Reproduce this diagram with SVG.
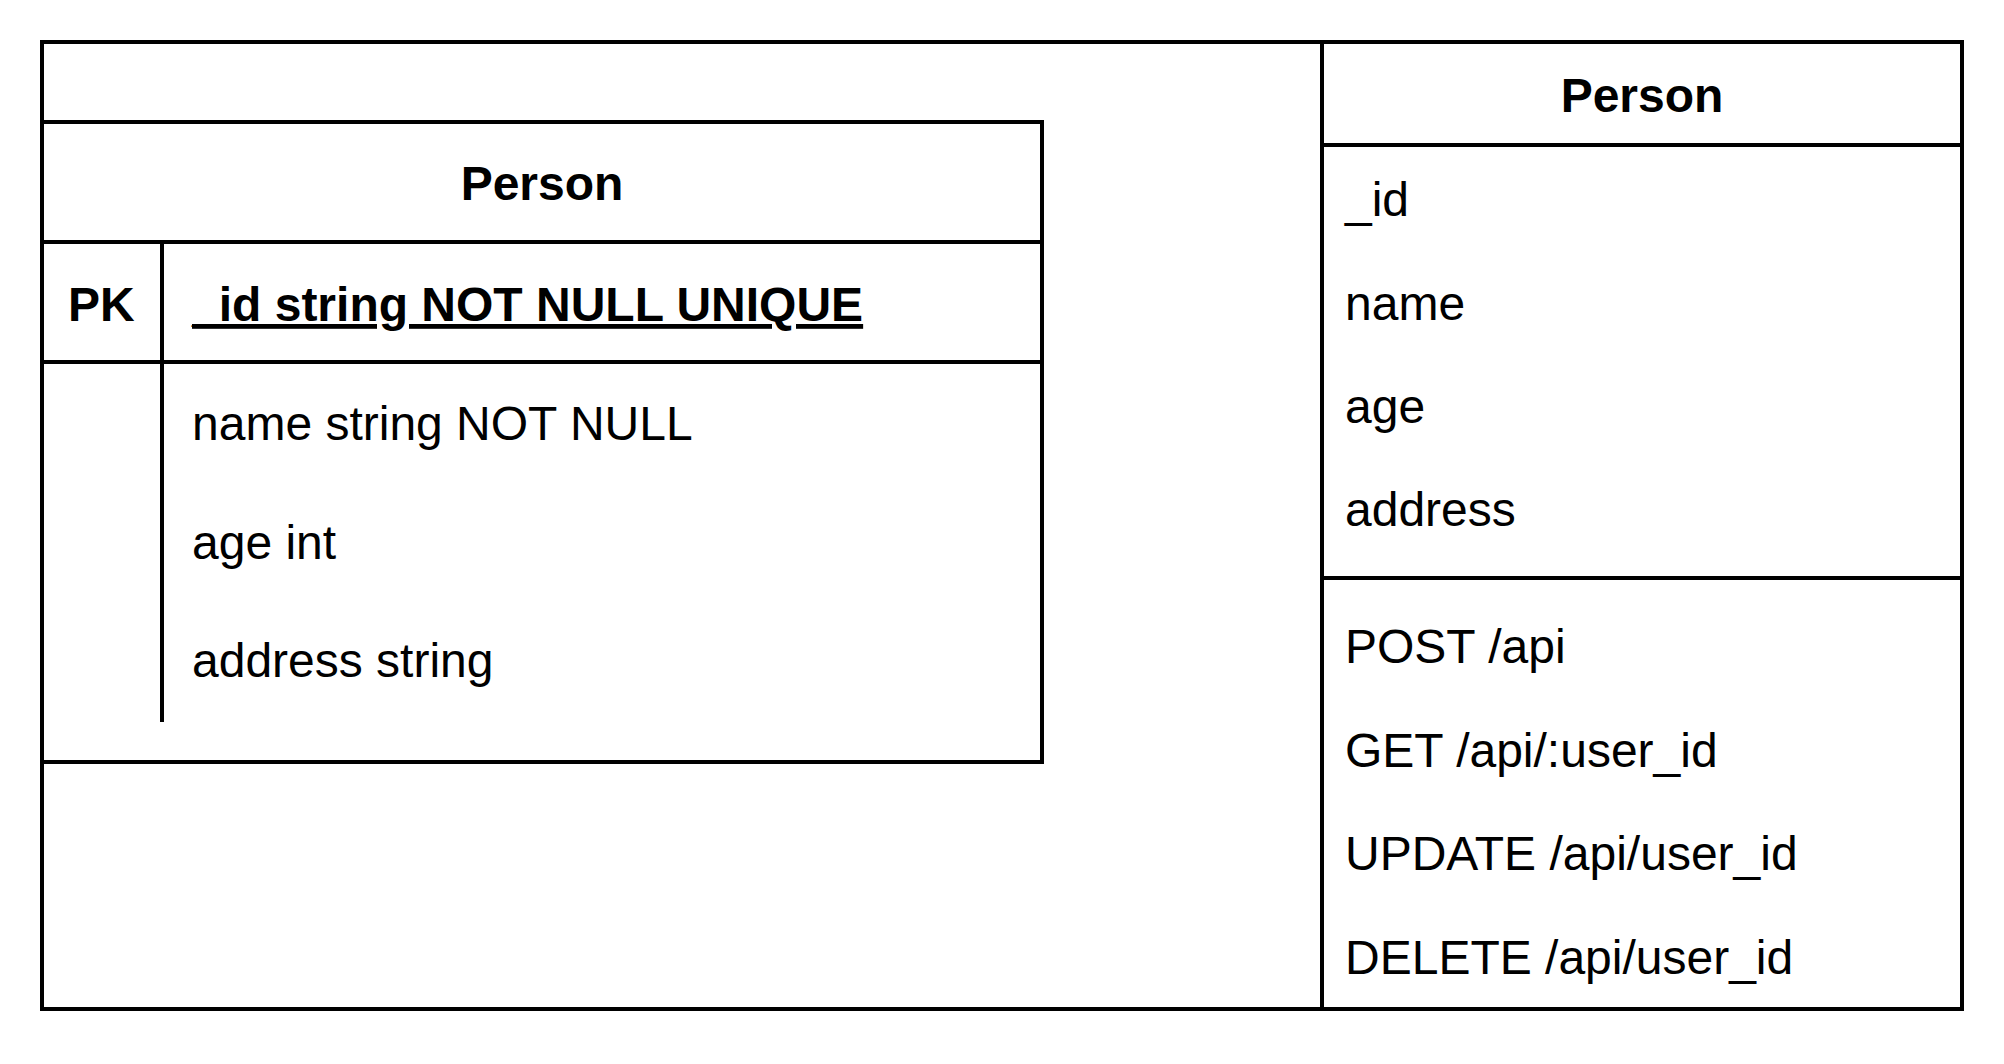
<svg xmlns="http://www.w3.org/2000/svg" width="2004" height="1064" viewBox="0 0 2004 1064">
<style>
.ln{fill:none;stroke:#000;stroke-width:4;stroke-linecap:square}
.t{font-family:"Liberation Sans",Arial,sans-serif;font-size:48px;fill:#000}
.b{font-weight:bold}
.c{text-anchor:middle}
</style>
<rect width="2004" height="1064" fill="#fff"/>
<g id="container">
<rect class="ln" x="42" y="42" width="1920" height="967"/>
</g>
<g id="table-person">
<rect class="ln" x="42" y="122" width="1000" height="640"/>
<line class="ln" x1="42" y1="242" x2="1042" y2="242"/>
<line class="ln" x1="42" y1="362" x2="1042" y2="362"/>
<line class="ln" x1="162" y1="242" x2="162" y2="722" style="stroke-linecap:butt"/>
<text class="t b c" x="542" y="200">Person</text>
<text class="t b" x="68" y="321">PK</text>
<text class="t b" x="192" y="321" text-decoration="underline">_id string NOT NULL UNIQUE</text>
<text class="t" x="192" y="440">name string NOT NULL</text>
<text class="t" x="192" y="559">age int</text>
<text class="t" x="192" y="677">address string</text>
</g>
<g id="class-person">
<line class="ln" x1="1322" y1="42" x2="1322" y2="1009"/>
<line class="ln" x1="1322" y1="145" x2="1962" y2="145"/>
<line class="ln" x1="1322" y1="578" x2="1962" y2="578"/>
<text class="t b c" x="1642" y="112">Person</text>
<text class="t" x="1345" y="216">_id</text>
<text class="t" x="1345" y="320">name</text>
<text class="t" x="1345" y="423">age</text>
<text class="t" x="1345" y="526">address</text>
<text class="t" x="1345" y="663">POST /api</text>
<text class="t" x="1345" y="767">GET /api/:user_id</text>
<text class="t" x="1345" y="870">UPDATE /api/user_id</text>
<text class="t" x="1345" y="974">DELETE /api/user_id</text>
</g>
<g id="connectors"></g>
</svg>
